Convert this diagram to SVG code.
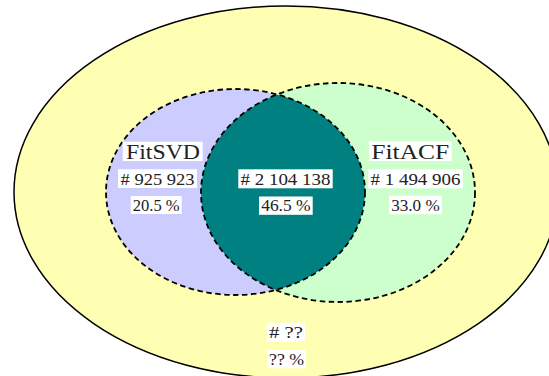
<svg xmlns="http://www.w3.org/2000/svg" width="549" height="376" viewBox="0 0 549 376">
<style>
.lbl{fill:#fff}
.t{font-family:"Liberation Serif","Times New Roman",serif;fill:#222;text-anchor:middle}
.big{font-size:21px}
.num{font-size:16.5px}
.dash{fill:none;stroke:#000;stroke-width:1.8;stroke-dasharray:5.5,3.5}
</style>
<defs>
<clipPath id="clipL"><ellipse cx="235.5" cy="192" rx="129.5" ry="103"/></clipPath>
</defs>
<g id="universe">
<ellipse cx="286" cy="192" rx="272" ry="186" fill="#ffffb3" stroke="#000" stroke-width="1.5"/>
</g>
<g id="fitsvd-set">
<ellipse cx="235.5" cy="192" rx="129.5" ry="103" fill="#ccccff"/>
</g>
<g id="fitacf-set">
<ellipse cx="338" cy="192.5" rx="137" ry="109.5" fill="#ccffcc"/>
</g>
<g id="intersection">
<ellipse cx="338" cy="192.5" rx="137" ry="109.5" fill="#008080" clip-path="url(#clipL)"/>
</g>
<g id="borders">
<ellipse class="dash" cx="235.5" cy="192" rx="129.5" ry="103"/>
<ellipse class="dash" cx="338" cy="192.5" rx="137" ry="109.5"/>
</g>
<g id="fitsvd-labels">
<rect class="lbl" x="122.7" y="141.7" width="80" height="19.3"/>
<text class="t big" x="163" y="158.8" textLength="74" lengthAdjust="spacingAndGlyphs">FitSVD</text>
<rect class="lbl" x="118" y="169.3" width="79" height="18.7"/>
<text class="t num" x="157.5" y="184.5" textLength="74" lengthAdjust="spacingAndGlyphs"># 925 923</text>
<rect class="lbl" x="130.7" y="196" width="51" height="18"/>
<text class="t num" x="156.2" y="211" textLength="47" lengthAdjust="spacingAndGlyphs">20.5 %</text>
</g>
<g id="both-labels">
<rect class="lbl" x="238.3" y="169.3" width="94.4" height="19"/>
<text class="t num" x="285.5" y="184.5" textLength="90" lengthAdjust="spacingAndGlyphs"># 2 104 138</text>
<rect class="lbl" x="259" y="196.5" width="53.7" height="18.3"/>
<text class="t num" x="285.9" y="211.3" textLength="49.5" lengthAdjust="spacingAndGlyphs">46.5 %</text>
</g>
<g id="fitacf-labels">
<rect class="lbl" x="369" y="141.3" width="82.7" height="19.7"/>
<text class="t big" x="410.3" y="158.8" textLength="78" lengthAdjust="spacingAndGlyphs">FitACF</text>
<rect class="lbl" x="368.3" y="169.3" width="94.4" height="19"/>
<text class="t num" x="415.5" y="184.5" textLength="90" lengthAdjust="spacingAndGlyphs"># 1 494 906</text>
<rect class="lbl" x="389" y="195.7" width="52.7" height="18.6"/>
<text class="t num" x="415.4" y="211" textLength="48.5" lengthAdjust="spacingAndGlyphs">33.0 %</text>
</g>
<g id="outside-labels">
<rect class="lbl" x="266.7" y="322.7" width="38.3" height="19"/>
<text class="t num" x="285.9" y="337.8" textLength="34" lengthAdjust="spacingAndGlyphs"># ??</text>
<rect class="lbl" x="267.3" y="350" width="38.7" height="18.3"/>
<text class="t num" x="286.6" y="365" textLength="35" lengthAdjust="spacingAndGlyphs">?? %</text>
</g>
</svg>
